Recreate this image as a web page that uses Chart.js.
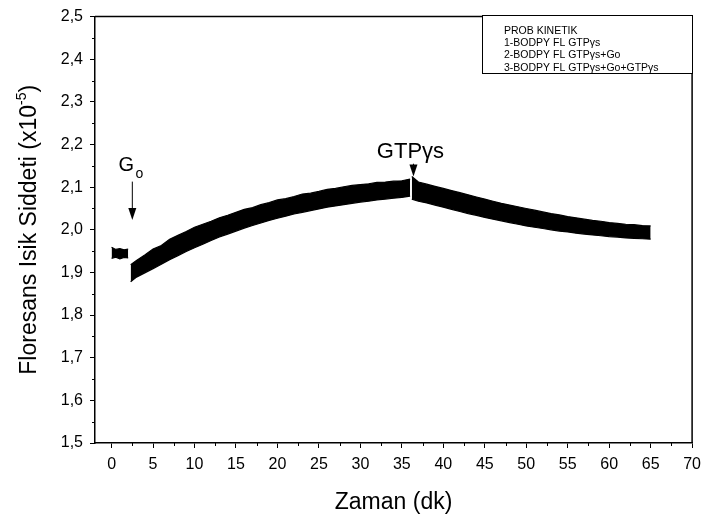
<!DOCTYPE html>
<html>
<head>
<meta charset="utf-8">
<script src="https://cdn.jsdelivr.net/npm/chart.js@4/dist/chart.umd.min.js"></script>
<style>
  html, body { margin: 0; padding: 0; background: #fff; }
  #wrap { width: 708px; height: 522px; }
</style>
</head>
<body>
<div id="wrap"><canvas id="c" width="708" height="522"></canvas></div>
<script>
// ---- data ----
const xTicks = [0, 5, 10, 15, 20, 25, 30, 35, 40, 45, 50, 55, 60, 65, 70];
const yTicks = [1.5, 1.6, 1.7, 1.8, 1.9, 2.0, 2.1, 2.2, 2.3, 2.4, 2.5];

// segment 1 (before Go addition): noisy band envelope
const seg1X     = [0, 0.5, 1, 1.5, 2.0];
const seg1Upper = [1.959, 1.954, 1.956, 1.953, 1.955];
const seg1Lower = [1.933, 1.936, 1.932, 1.935, 1.934];

// segment 2 (after Go addition, before GTPγs)
const seg2X     = [2.3, 3, 4, 5, 6, 7, 8, 9, 10, 11, 12, 13, 14, 15, 16, 17, 18, 19, 20, 21, 22, 23, 24, 25, 26, 27, 28, 29, 30, 31, 32, 33, 34, 35, 36];
const seg2Upper = [1.918, 1.928, 1.941, 1.955, 1.963, 1.978, 1.987, 1.996, 2.006, 2.013, 2.020, 2.028, 2.034, 2.041, 2.048, 2.052, 2.059, 2.064, 2.070, 2.073, 2.078, 2.084, 2.086, 2.090, 2.095, 2.097, 2.101, 2.104, 2.106, 2.108, 2.111, 2.112, 2.114, 2.115, 2.119];
const seg2Lower = [1.878, 1.889, 1.899, 1.909, 1.919, 1.930, 1.939, 1.949, 1.958, 1.966, 1.975, 1.983, 1.990, 1.997, 2.004, 2.010, 2.016, 2.022, 2.027, 2.032, 2.037, 2.041, 2.045, 2.049, 2.053, 2.056, 2.059, 2.062, 2.065, 2.067, 2.070, 2.072, 2.074, 2.076, 2.079];

// segment 3 (after GTPγs addition)
const seg3X     = [36.2, 37, 38, 39, 40, 41, 42, 43, 44, 45, 46, 47, 48, 49, 50, 51, 52, 53, 54, 55, 56, 57, 58, 59, 60, 61, 62, 63, 64, 65];
const seg3Upper = [2.125, 2.112, 2.107, 2.102, 2.097, 2.092, 2.087, 2.082, 2.077, 2.072, 2.067, 2.062, 2.058, 2.054, 2.050, 2.046, 2.042, 2.038, 2.035, 2.031, 2.028, 2.025, 2.022, 2.020, 2.017, 2.015, 2.013, 2.012, 2.010, 2.009];
const seg3Lower = [2.072, 2.067, 2.063, 2.058, 2.053, 2.048, 2.043, 2.038, 2.034, 2.029, 2.025, 2.021, 2.017, 2.013, 2.009, 2.006, 2.003, 2.000, 1.997, 1.995, 1.992, 1.990, 1.988, 1.986, 1.984, 1.983, 1.981, 1.980, 1.979, 1.978];

// annotations: label, x position, text baseline value, arrow start value, arrow tip value
const annoLabels = ["G", "GTPγs"];
const annoX      = [2.5, 36.4];
const annoTextY  = [2.137, 2.168];
const annoFromY  = [2.113, 2.155];
const annoToY    = [2.023, 2.125];

const legendLines = ["PROB KINETIK", "1-BODPY FL GTPγs", "2-BODPY FL GTPγs+Go", "3-BODPY FL GTPγs+Go+GTPγs"];

const FONT = '"Liberation Sans", Arial, Helvetica, sans-serif';

function pts(xs, ys) { return xs.map((x, i) => ({ x: x, y: ys[i] })); }
function bandSets(xs, up, lo) {
  return [
    { data: pts(xs, up), borderColor: '#000', backgroundColor: '#000', borderWidth: 1.2, pointRadius: 0, fill: false, tension: 0 },
    { data: pts(xs, lo), borderColor: '#000', backgroundColor: '#000', borderWidth: 1.2, pointRadius: 0, fill: '-1', tension: 0 }
  ];
}

const decorPlugin = {
  id: 'decor',
  afterDraw(chart) {
    const ctx = chart.ctx;
    const xs = chart.scales.x, ys = chart.scales.y;
    const a = chart.chartArea;
    ctx.save();
    ctx.strokeStyle = '#000';
    ctx.fillStyle = '#000';
    // frame top and right
    ctx.lineWidth = 1.5;
    ctx.beginPath();
    ctx.moveTo(a.left, a.top); ctx.lineTo(a.right, a.top); ctx.lineTo(a.right, a.bottom);
    ctx.stroke();
    // minor ticks (outside)
    ctx.lineWidth = 1;
    ctx.beginPath();
    for (let v = 2.5; v < 70; v += 5) {
      const p = Math.round(xs.getPixelForValue(v)) + 0.5;
      ctx.moveTo(p, a.bottom); ctx.lineTo(p, a.bottom + 3);
    }
    for (let v = 1.55; v < 2.5; v += 0.1) {
      const p = Math.round(ys.getPixelForValue(v)) + 0.5;
      ctx.moveTo(a.left, p); ctx.lineTo(a.left - 3, p);
    }
    ctx.stroke();

    // annotations
    for (let i = 0; i < annoLabels.length; i++) {
      const px = xs.getPixelForValue(annoX[i]);
      const ty = ys.getPixelForValue(annoTextY[i]);
      const y0 = ys.getPixelForValue(annoFromY[i]);
      const y1 = ys.getPixelForValue(annoToY[i]);
      ctx.textBaseline = 'alphabetic';
      ctx.textAlign = 'center';
      if (annoLabels[i] === 'G') {
        ctx.font = '20px ' + FONT;
        ctx.fillText('G', px - 6, ty);
        ctx.font = '14px ' + FONT;
        ctx.fillText('o', px + 7, ty + 7);
      } else {
        ctx.font = '22px ' + FONT;
        ctx.fillText(annoLabels[i], px - 3, ty);
      }
      ctx.lineWidth = 1;
      ctx.beginPath();
      ctx.moveTo(px, y0); ctx.lineTo(px, y1 - 10);
      ctx.stroke();
      ctx.beginPath();
      ctx.moveTo(px - 4, y1 - 12); ctx.lineTo(px + 4, y1 - 12); ctx.lineTo(px, y1); ctx.closePath();
      ctx.fill();
    }

    // legend box
    const bx = 482.5, by = 15.5, bw = 210, bh = 58;
    ctx.fillStyle = '#fff';
    ctx.fillRect(bx, by, bw, bh);
    ctx.lineWidth = 1;
    ctx.strokeStyle = '#000';
    ctx.strokeRect(bx, by, bw, bh);
    ctx.fillStyle = '#000';
    ctx.font = '10.5px ' + FONT;
    ctx.textAlign = 'left';
    ctx.textBaseline = 'middle';
    for (let i = 0; i < legendLines.length; i++) {
      ctx.fillText(legendLines[i], 504, 31 + i * 12.3);
    }

    // x title
    ctx.font = '23px ' + FONT;
    ctx.textAlign = 'center';
    ctx.textBaseline = 'alphabetic';
    ctx.fillText('Zaman (dk)', (a.left + a.right) / 2, 509);

    // y title with superscript
    ctx.save();
    ctx.translate(36, (a.top + a.bottom) / 2);
    ctx.rotate(-Math.PI / 2);
    const mainFont = '23px ' + FONT, supFont = '14px ' + FONT;
    const t1 = 'Floresans Isik Siddeti (x10', t2 = '-5', t3 = ')';
    ctx.font = mainFont; const w1 = ctx.measureText(t1).width, w3 = ctx.measureText(t3).width;
    ctx.font = supFont; const w2 = ctx.measureText(t2).width;
    let sx = -(w1 + w2 + w3) / 2;
    ctx.textAlign = 'left';
    ctx.font = mainFont; ctx.fillText(t1, sx, 0); sx += w1;
    ctx.font = supFont; ctx.fillText(t2, sx, -10); sx += w2;
    ctx.font = mainFont; ctx.fillText(t3, sx, 0);
    ctx.restore();

    ctx.restore();
  }
};

new Chart(document.getElementById('c'), {
  type: 'line',
  data: {
    datasets: [
      ...bandSets(seg1X, seg1Upper, seg1Lower),
      ...bandSets(seg2X, seg2Upper, seg2Lower),
      ...bandSets(seg3X, seg3Upper, seg3Lower)
    ]
  },
  options: {
    responsive: false,
    devicePixelRatio: 1,
    animation: false,
    layout: { padding: { top: 11, right: 10, left: 0, bottom: 0 } },
    plugins: { legend: { display: false }, tooltip: { enabled: false } },
    scales: {
      x: {
        type: 'linear', min: -2, max: 70,
        afterBuildTicks(s) { s.ticks = xTicks.map(v => ({ value: v })); },
        afterFit(s) { s.height = 79; },
        grid: { display: true, drawOnChartArea: false, drawTicks: true, tickLength: 5, color: '#000', tickWidth: 1 },
        border: { display: true, color: '#000', width: 1.5 },
        ticks: { color: '#000', font: { family: FONT, size: 16 }, padding: 7, maxRotation: 0, autoSkip: false, callback: v => String(v) }
      },
      y: {
        type: 'linear', min: 1.5, max: 2.5,
        afterBuildTicks(s) { s.ticks = yTicks.map(v => ({ value: v })); },
        afterFit(s) { s.width = 95; },
        grid: { display: true, drawOnChartArea: false, drawTicks: true, tickLength: 5, color: '#000', tickWidth: 1 },
        border: { display: true, color: '#000', width: 1.5 },
        ticks: { color: '#000', font: { family: FONT, size: 16 }, padding: 7, autoSkip: false, callback: v => v.toFixed(1).replace('.', ',') }
      }
    }
  },
  plugins: [decorPlugin]
});
</script>
</body>
</html>
